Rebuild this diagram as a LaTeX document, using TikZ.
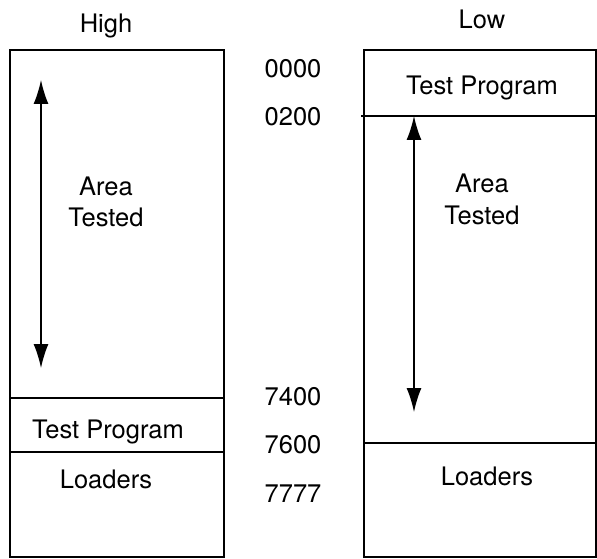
\documentclass[tikz,border=0pt]{standalone}
\usepackage{fontspec}
\setmainfont{TeX Gyre Heros}
\usetikzlibrary{arrows.meta}
\begin{document}
\begin{tikzpicture}[x=1pt, y=-1pt, line width=1.6pt,
    txt/.style={anchor=base, inner sep=0pt, font=\fontsize{25.5}{30}\selectfont},
    span/.style={{Latex[length=24pt,width=15pt]}-{Latex[length=24pt,width=15pt]}, line width=1.4pt}]
  \useasboundingbox (0,0) rectangle (597,559);
  % high memory layout
  \draw (10,50) rectangle (224,557);
  \draw (10,398) -- (224,398);
  \draw (10,452) -- (224,452);
  \node[txt] (high) at (106,33) {High};
  \node[txt] (hiarea) at (106,195) {Area};
  \node[txt] (hitested) at (106,226) {Tested};
  \node[txt] (hitest) at (108,438) {Test Program};
  \node[txt] (hiload) at (106,488) {Loaders};
  \coordinate (hitop) at (41,80);
  \coordinate (hibot) at (41,368);
  \draw[span] (hitop) -- (hibot);
  % addresses
  \node[txt] (a0000) at (293,78) {0000};
  \node[txt] (a0200) at (293,126) {0200};
  \node[txt] (a7400) at (293,405) {7400};
  \node[txt] (a7600) at (293,453) {7600};
  \node[txt] (a7777) at (293,502) {7777};
  % low memory layout
  \draw (364,50) rectangle (596,557);
  \draw (361,116) -- (596,116);
  \draw (364,443) -- (596,443);
  \node[txt] (low) at (482,29) {Low};
  \node[txt] (lotest) at (482,95) {Test Program};
  \node[txt] (loarea) at (482,193) {Area};
  \node[txt] (lotested) at (482,224) {Tested};
  \node[txt] (loload) at (487,485) {Loaders};
  \coordinate (lotop) at (414,116);
  \coordinate (lobot) at (414,412);
  \draw[span] (lotop) -- (lobot);
\end{tikzpicture}
\end{document}
